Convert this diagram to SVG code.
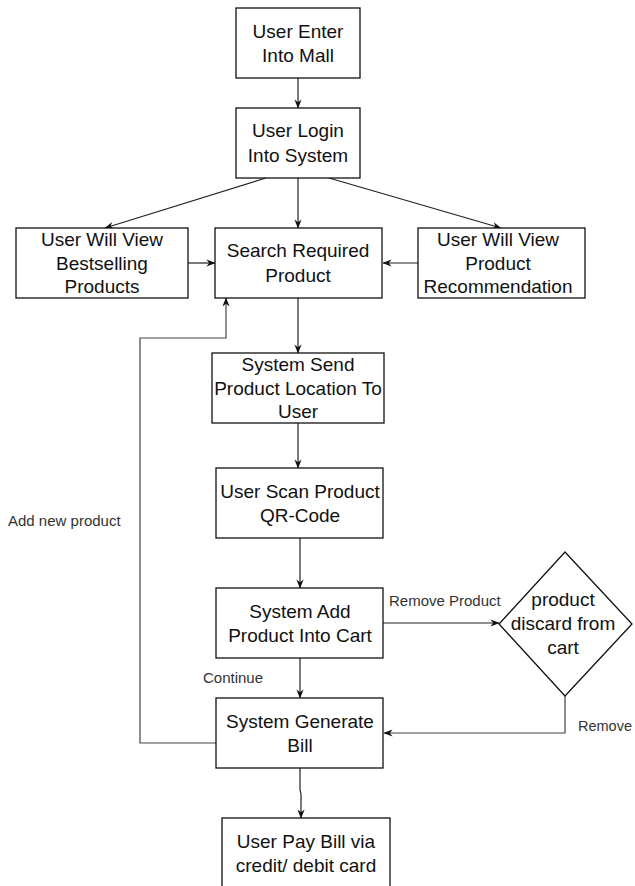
<svg xmlns="http://www.w3.org/2000/svg" width="635" height="886" viewBox="0 0 635 886">
  <style>
    .box { fill: #fff; stroke: #111; stroke-width: 1.3; }
    .t { font-family: "Liberation Sans", Arial, sans-serif; font-size: 19px; fill: #111; text-anchor: middle; }
    .lbl { font-family: "Liberation Sans", Arial, sans-serif; font-size: 15px; fill: #333; }
    .edge { fill: none; stroke: #222; stroke-width: 1.2; }
    .edge-g { fill: none; stroke: #444; stroke-width: 1.2; }
  </style>
  <defs>
    <marker id="arrow" viewBox="0 0 10 10" refX="9.5" refY="5" markerWidth="9" markerHeight="9" markerUnits="userSpaceOnUse" orient="auto">
      <path d="M0,1 L10,5 L0,9 L3,5 Z" fill="#111"/>
    </marker>
  </defs>
  <rect width="635" height="886" fill="#fff"/>

  <!-- connectors -->
  <g id="connectors">
    <path class="edge" d="M298,78 V108" marker-end="url(#arrow)"/>
    <path class="edge" d="M266,178 L105,228" marker-end="url(#arrow)"/>
    <path class="edge" d="M298,178 V228" marker-end="url(#arrow)"/>
    <path class="edge" d="M329,178 L501,228" marker-end="url(#arrow)"/>
    <path class="edge" d="M188,263 H215" marker-end="url(#arrow)"/>
    <path class="edge" d="M418,263 H383" marker-end="url(#arrow)"/>
    <path class="edge" d="M298,298 V353" marker-end="url(#arrow)"/>
    <path class="edge" d="M298,423 V468" marker-end="url(#arrow)"/>
    <path class="edge" d="M300,538 V588" marker-end="url(#arrow)"/>
    <path class="edge" d="M383,623 H499" marker-end="url(#arrow)"/>
    <path class="edge" d="M300,658 V698" marker-end="url(#arrow)"/>
    <path class="edge-g" d="M565,696 V733 H384" marker-end="url(#arrow)"/>
    <path class="edge-g" d="M216,743 H140 V338 H226 V298" marker-end="url(#arrow)"/>
    <path class="edge" d="M300,768 V790 L301,794 V818" marker-end="url(#arrow)"/>
    <text class="lbl" x="8" y="526">Add new product</text>
    <text class="lbl" x="389" y="606">Remove Product</text>
    <text class="lbl" x="203" y="683">Continue</text>
    <text class="lbl" x="578" y="731" textLength="54" lengthAdjust="spacingAndGlyphs">Remove</text>
  </g>

  <g id="enter-mall">
    <rect class="box" x="236" y="8" width="124" height="70"/>
    <text class="t" x="298" y="38">User Enter</text>
    <text class="t" x="298" y="62">Into Mall</text>
  </g>
  <g id="login">
    <rect class="box" x="236" y="108" width="124" height="70"/>
    <text class="t" x="298" y="137">User Login</text>
    <text class="t" x="298" y="162">Into System</text>
  </g>
  <g id="bestselling">
    <rect class="box" x="16" y="228" width="172" height="70"/>
    <text class="t" x="102" y="246">User Will View</text>
    <text class="t" x="102" y="270">Bestselling</text>
    <text class="t" x="102" y="293">Products</text>
  </g>
  <g id="search">
    <rect class="box" x="215" y="228" width="167" height="70"/>
    <text class="t" x="298" y="257">Search Required</text>
    <text class="t" x="298" y="282">Product</text>
  </g>
  <g id="recommendation">
    <rect class="box" x="418" y="228" width="167" height="70"/>
    <text class="t" x="498" y="246">User Will View</text>
    <text class="t" x="498" y="270">Product</text>
    <text class="t" x="498" y="293">Recommendation</text>
  </g>
  <g id="send-location">
    <rect class="box" x="212" y="353" width="172" height="70"/>
    <text class="t" x="298" y="371">System Send</text>
    <text class="t" x="298" y="395">Product Location To</text>
    <text class="t" x="298" y="418">User</text>
  </g>
  <g id="scan-qr">
    <rect class="box" x="216" y="468" width="167" height="70"/>
    <text class="t" x="300" y="498">User Scan Product</text>
    <text class="t" x="300" y="522">QR-Code</text>
  </g>
  <g id="add-cart">
    <rect class="box" x="216" y="588" width="167" height="70"/>
    <text class="t" x="300" y="618">System Add</text>
    <text class="t" x="300" y="642">Product Into Cart</text>
  </g>
  <g id="discard">
    <path class="box" d="M565,552 L632,624 L565,696 L499,624 Z"/>
    <text class="t" x="563" y="606">product</text>
    <text class="t" x="563" y="630">discard from</text>
    <text class="t" x="563" y="654">cart</text>
  </g>
  <g id="generate-bill">
    <rect class="box" x="216" y="698" width="167" height="70"/>
    <text class="t" x="300" y="728">System Generate</text>
    <text class="t" x="300" y="752">Bill</text>
  </g>
  <g id="pay-bill">
    <rect class="box" x="222" y="818" width="168" height="70"/>
    <text class="t" x="306" y="848">User Pay Bill via</text>
    <text class="t" x="306" y="872">credit/ debit card</text>
  </g>
</svg>
